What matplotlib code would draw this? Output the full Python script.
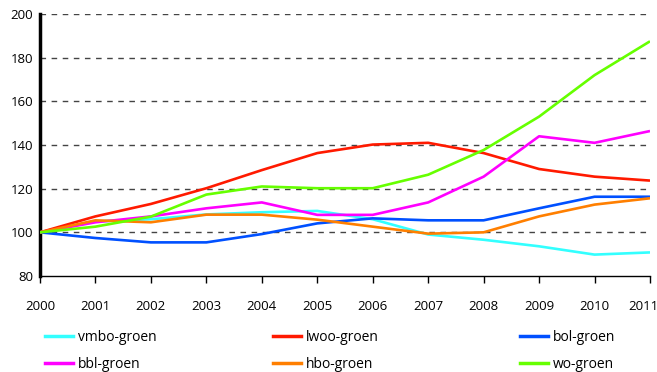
import matplotlib
matplotlib.use("Agg")
import matplotlib.pyplot as plt
from matplotlib.lines import Line2D
from matplotlib.transforms import ScaledTranslation

years = list(range(2000, 2012))
vmbo = [100, 105, 106, 108.2, 109.2, 109.8, 106, 99, 96.6, 93.6, 89.8, 90.8]
lwoo = [100, 107.3, 113, 120.2, 128.5, 136.3, 140.2, 141, 136.3, 129, 125.5, 123.7]
bol = [100, 97.4, 95.4, 95.4, 99.2, 104.1, 106.4, 105.5, 105.5, 111, 116.3, 116.3]
bbl = [100, 104.6, 107.3, 111, 113.7, 108, 108, 113.7, 125.5, 144, 141, 146.4]
hbo = [100, 105.5, 104.6, 108.1, 108.1, 105.8, 102.6, 99.4, 100, 107.3, 112.7, 115.6]
wo = [100, 102.6, 107.2, 117.3, 121, 120.2, 120.2, 126.4, 137.7, 153, 172, 187.5]

names = ["vmbo-groen", "lwoo-groen", "bol-groen", "bbl-groen", "hbo-groen", "wo-groen"]
series = [vmbo, lwoo, bol, bbl, hbo, wo]
colors = ["#33FFFF", "#FF1A00", "#0050FF", "#FF00FF", "#FF7F00", "#66FF00"]
yticks = [80, 100, 120, 140, 160, 180, 200]

plt.rcParams['font.family'] = ['Open Sans', 'DejaVu Sans']

fig = plt.figure(figsize=(6.57, 3.72), dpi=100)
ax = fig.add_axes([40/657, 1-276/372, 610/657, 262/372])

for yv in yticks[1:]:
    ax.axhline(yv, color="#444444", lw=1.0, ls=(0, (4, 4)), zorder=1)

for s, c in zip(series, colors):
    ax.plot(years, s, color=c, lw=1.9, zorder=3, solid_capstyle='butt')

ax.set_xlim(2000, 2011)
ax.set_ylim(80, 200)
ax.set_xticks(years)
ax.set_xticklabels([str(y) for y in years], fontsize=9.5)
ax.set_yticks(yticks)
ax.set_yticklabels([str(y) for y in yticks], fontsize=9.5)
ax.tick_params(axis='y', length=0, pad=5)
ax.tick_params(axis='x', length=5, width=1, pad=12, direction='out')
for sp in ['top', 'right']:
    ax.spines[sp].set_visible(False)
ax.spines['left'].set_linewidth(2.5)
ax.spines['bottom'].set_linewidth(1.0)

# nudge last x label so it stays inside the figure
last = ax.get_xticklabels()[-1]
last.set_transform(last.get_transform() + ScaledTranslation(-7/100, 0, fig.dpi_scale_trans))

# legend: 3 columns placed individually
colx = [45, 273, 520]
for i in range(3):
    idxs = [i, i + 3]
    handles = [Line2D([0], [0], color=colors[k], lw=2.5) for k in idxs]
    labels = [names[k] for k in idxs]
    fig.legend(handles, labels, loc='upper left',
               bbox_to_anchor=(colx[i]/657, 1 - 330/372),
               frameon=False, fontsize=10, handlelength=2.0,
               handletextpad=0.35, labelspacing=0.88, borderaxespad=0,
               borderpad=0)

fig.savefig("out.png", dpi=100)
